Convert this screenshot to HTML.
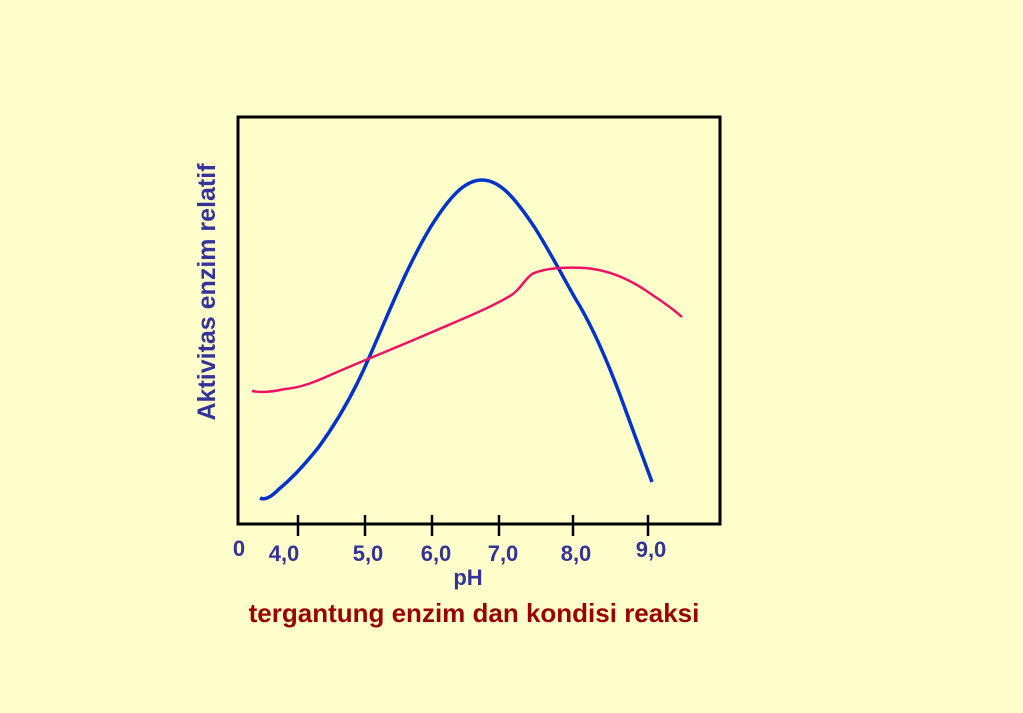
<!DOCTYPE html>
<html><head><style>
body{margin:0;width:1023px;height:708px;background:#ffffcc;overflow:hidden}
</style></head><body>
<svg width="1023" height="708" xmlns="http://www.w3.org/2000/svg" font-family="Liberation Sans, sans-serif" font-weight="bold">
<rect x="238" y="117" width="482" height="407" fill="none" stroke="#000" stroke-width="3"/>
<g stroke="#000" stroke-width="2.5">
<line x1="298" y1="515" x2="298" y2="536"/><line x1="365" y1="515" x2="365" y2="536"/>
<line x1="432" y1="515" x2="432" y2="536"/><line x1="499" y1="515" x2="499" y2="536"/>
<line x1="573" y1="515" x2="573" y2="536"/><line x1="648" y1="515" x2="648" y2="536"/>
</g>
<g fill="#333399" font-size="22" text-anchor="middle">
<text x="239" y="556">0</text>
<text x="284" y="561">4,0</text><text x="368" y="561">5,0</text>
<text x="436" y="561">6,0</text><text x="503" y="561">7,0</text>
<text x="576" y="561">8,0</text><text x="651" y="557">9,0</text>
<text x="468" y="585">pH</text>
<text transform="translate(215,292) rotate(-90)" font-size="25">Aktivitas enzim relatif</text>
</g>
<text x="474" y="622" fill="#990000" font-size="26" text-anchor="middle">tergantung enzim dan kondisi reaksi</text>
<path d="M260,498 C264,500 270,498 278,490 C290,480 300,470 318,448 C340,418 355,390 368,360 C385,322 405,270 430,228 C450,196 465,180 482,180 C500,180 515,198 535,228 C550,252 562,275 575,298 C590,322 605,355 620,395 C632,427 642,455 652,482" fill="none" stroke="#0033cc" stroke-width="3.5"/>
<path d="M252,391 C262,393 272,392 285,389 C300,388 315,382 335,373 C360,362 400,346 430,333 C460,320 490,308 510,296 C520,290 524,280 532,274 C545,268 565,267 585,268 C610,270 630,280 645,290 C660,300 672,308 682,317" fill="none" stroke="#ee1166" stroke-width="2.5"/>
</svg>
</body></html>
